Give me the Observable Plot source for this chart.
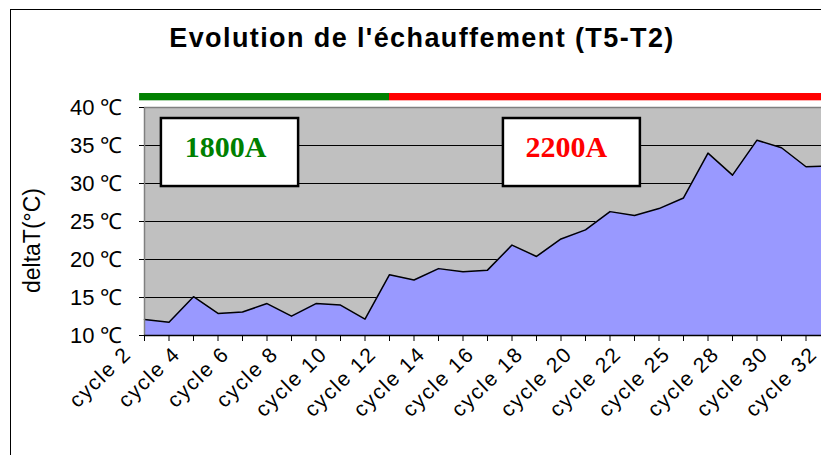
<!DOCTYPE html>
<html><head><meta charset="utf-8">
<script src="https://cdn.jsdelivr.net/npm/d3@7"></script>
<script src="https://cdn.jsdelivr.net/npm/@observablehq/plot@0.6"></script>
<style>
html,body{margin:0;padding:0;background:#fff;overflow:hidden;width:821px;height:455px;}
#wrap{position:relative;width:821px;height:455px;overflow:hidden;}
#border{position:absolute;left:10px;top:9px;width:900px;height:500px;border:1.5px solid #000;box-sizing:border-box;}
#title{position:absolute;left:0;width:844px;top:23px;text-align:center;font:bold 27px "Liberation Sans",Arial,sans-serif;letter-spacing:1.4px;}
#chart{position:absolute;left:0;top:0;width:900px;}
#chart svg{max-width:none !important;}
</style></head><body>
<div id="wrap"><div id="border"></div><div id="title">Evolution de l'échauffement (T5-T2)</div><div id="chart"></div></div>
<script>
const categories = ["cycle 2","cycle 3","cycle 4","cycle 5","cycle 6","cycle 7","cycle 8","cycle 9","cycle 10","cycle 11","cycle 12","cycle 13","cycle 14","cycle 15","cycle 16","cycle 17","cycle 18","cycle 19","cycle 20","cycle 21","cycle 22","cycle 23","cycle 25","cycle 26","cycle 28","cycle 29","cycle 30","cycle 31","cycle 32"];
const deltaT = [12.1,11.75,15.1,12.9,13.1,14.2,12.55,14.2,14.0,12.15,18.0,17.3,18.8,18.4,18.6,21.9,20.4,22.7,23.9,26.3,25.8,26.7,28.1,34.0,31.1,35.7,34.7,32.2,32.3];
const yTicks = [10,15,20,25,30,35,40];
const phaseLabels = ["1800A","2200A"];
const phaseColors = ["#008000","#ff0000"];
const phaseStart = [-0.2, 10];
const phaseEnd = [10, 29];
// annotation boxes (data units: category index / °C)
const boxX1 = [0.69, 14.65], boxX2 = [6.29, 20.24], boxY1 = [29.6, 29.6], boxY2 = [38.55, 38.55];
const labelX = [3.31, 17.22], labelY = [34.7, 34.7];
const barY1 = 40.88, barY2 = 41.84;

const data = categories.map((c,i)=>({i, c, v: deltaT[i]}));
const phases = phaseLabels.map((l,k)=>({label:l, color:phaseColors[k], start:phaseStart[k], end:phaseEnd[k],
  x1:boxX1[k], x2:boxX2[k], y1:boxY1[k], y2:boxY2[k], tx:labelX[k], ty:labelY[k]}));

const chart = Plot.plot({
  width: 850, height: 455,
  marginLeft: 144, marginRight: 20, marginTop: 107, marginBottom: 120,
  style: {fontFamily: '"Liberation Sans", Arial, sans-serif', fontSize: "22px", background: "transparent", overflow: "visible", maxWidth: "none"},
  x: {type: "linear", domain: [0, categories.length-1], axis: null},
  y: {domain: [10, 40], axis: null},
  color: {type: "identity"},
  marks: [
    Plot.frame({fill: "#c0c0c0"}),
    Plot.ruleY(yTicks.slice(1,-1), {stroke: "#000", strokeWidth: 1}),
    Plot.areaY(data, {x: "i", y1: 10, y2: "v", fill: "#9999ff"}),
    Plot.lineY(data, {x: "i", y: "v", stroke: "#000", strokeWidth: 1.5}),
    Plot.ruleY([40], {stroke: "#808080", strokeWidth: 1.5}),
    Plot.ruleX([0], {stroke: "#808080", strokeWidth: 1.5}),
    Plot.ruleY([10], {stroke: "#000", strokeWidth: 1.5}),
    Plot.axisY({ticks: yTicks, tickSize: 5, tickPadding: 17, tickFormat: d => d + " \u2103", fontSize: 22, label: null}),
    Plot.axisX({ticks: d3.range(categories.length), tickSize: 6, tickFormat: () => "", label: null}),
    Plot.text(data.filter(d => d.i % 2 === 0), {x: "i", text: "c", frameAnchor: "bottom", rotate: -44, textAnchor: "end", dx: -12, dy: 20, fontSize: 21, className: "xlab"}),
    Plot.rect(phases, {x1: "start", x2: "end", y1: barY1, y2: barY2, fill: "color"}),
    Plot.rect(phases, {x1: "x1", x2: "x2", y1: "y1", y2: "y2", fill: "white", stroke: "black", strokeWidth: 2.5}),
    Plot.text(phases, {x: "tx", y: "ty", text: "label", fill: "color", fontFamily: '"Liberation Serif", "Times New Roman", serif', fontWeight: "bold", fontSize: 30}),
    Plot.text(["deltaT(\u00b0C)"], {frameAnchor: "left", textAnchor: "middle", rotate: -90, dx: -112, dy: 19, fontSize: 23})
  ]
});
d3.select(chart).selectAll(".xlab text").attr("letter-spacing", "1.6px");
document.getElementById("chart").append(chart);
</script>
</body></html>
